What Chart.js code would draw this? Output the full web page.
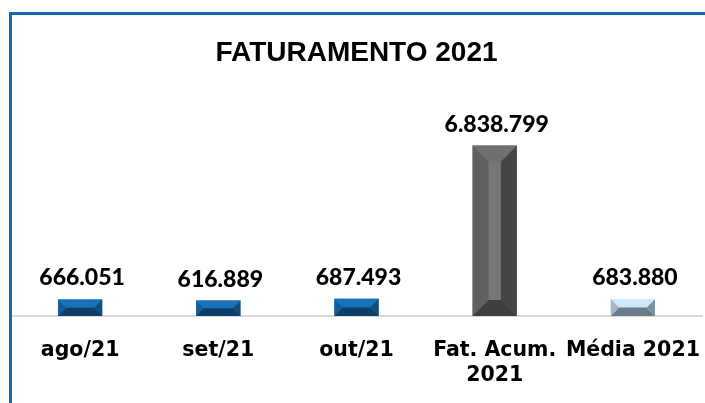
<!DOCTYPE html>
<html>
<head>
<meta charset="utf-8">
<script src="https://cdn.jsdelivr.net/npm/chart.js@4.4.1/dist/chart.umd.min.js"></script>
<style>
  html, body { margin: 0; padding: 0; background: #fff; overflow: hidden; }
  #wrap { position: relative; width: 705px; height: 403px; overflow: hidden; }
  #frame { position: absolute; left: 9px; top: 12px; width: 800px; height: 500px;
           border-left: 3.5px solid #1467ab; border-top: 3px solid #1467ab; pointer-events: none; }
</style>
</head>
<body>
<div id="wrap">
  <canvas id="chart" width="705" height="403"></canvas>
  <div id="frame"></div>
</div>
<script>
// ---------- data ----------
const TITLE = 'FATURAMENTO 2021';
const categories = ['ago/21', 'set/21', 'out/21', ['Fat. Acum.', '2021'], 'Média 2021'];
const values = [666051, 616889, 687493, 6838799, 683880];
const yMax = 8000000;

// ---------- bevel colours (one style per bar) ----------
const barStyle = ['blue', 'blue', 'blue', 'gray', 'light'];
const palettes = {
    blue:  { center: '#1a71b6', top: '#1a72b8', left: '#135f9b', right: '#0f4d7e', bottom: '#0d3f68' },
    gray:  { center: '#757678', top: '#6f7072', left: '#5f6062', right: '#444547', bottom: '#3d3e40' },
    light: { center: '#cfe8fa', top: '#cfe8fa', left: '#a3b7c7', right: '#7f91a0', bottom: '#6b7d8c' }
};

function fmt(n) {
    // 6838799 -> 6.838.799
    return n.toString().replace(/\B(?=(\d{3})+(?!\d))/g, '.');
}

function poly(ctx, pts, color) {
    ctx.beginPath();
    ctx.moveTo(pts[0][0], pts[0][1]);
    for (let i = 1; i < pts.length; i++) ctx.lineTo(pts[i][0], pts[i][1]);
    ctx.closePath();
    ctx.fillStyle = color;
    ctx.fill();
}

// draws bevel faces on top of each bar, using the bar geometry from chart.js
const bevelPlugin = {
    id: 'bevel',
    afterDatasetsDraw(chart) {
        const ctx = chart.ctx;
        const meta = chart.getDatasetMeta(0);
        ctx.save();
        meta.data.forEach((bar, i) => {
            const p = palettes[barStyle[i]];
            const L = bar.x - bar.width / 2, R = bar.x + bar.width / 2;
            const T = bar.y, B = bar.base;
            const b = Math.min(16, (B - T) / 2, (R - L) / 2 - 6);
            poly(ctx, [[L, T], [L + b, T + b], [L + b, B - b], [L, B]], p.left);
            poly(ctx, [[R, T], [R - b, T + b], [R - b, B - b], [R, B]], p.right);
            poly(ctx, [[L, T], [R, T], [R - b, T + b], [L + b, T + b]], p.top);
            poly(ctx, [[L, B], [R, B], [R - b, B - b], [L + b, B - b]], p.bottom);
        });
        ctx.restore();
    }
};

// value labels above the bars
const valueLabelPlugin = {
    id: 'valueLabels',
    afterDatasetsDraw(chart) {
        const ctx = chart.ctx;
        const meta = chart.getDatasetMeta(0);
        ctx.save();
        ctx.font = '900 23px Lato, "Open Sans", sans-serif';
        ctx.fillStyle = '#000';
        ctx.textAlign = 'center';
        ctx.textBaseline = 'alphabetic';
        meta.data.forEach((bar, i) => {
            ctx.fillText(fmt(values[i]), bar.x + 2, bar.y - 14);
        });
        ctx.restore();
    }
};

new Chart(document.getElementById('chart'), {
    type: 'bar',
    data: {
        labels: categories,
        datasets: [{
            data: values,
            backgroundColor: barStyle.map(s => palettes[s].center),
            borderWidth: 0,
            categoryPercentage: 1,
            barPercentage: 0.32
        }]
    },
    options: {
        responsive: false,
        animation: false,
        devicePixelRatio: 1,
        layout: { padding: { top: 0, left: 11, right: 3, bottom: 14.5 } },
        plugins: {
            legend: { display: false },
            tooltip: { enabled: false },
            title: {
                display: true,
                text: TITLE,
                color: '#000',
                font: { family: '"Liberation Sans", Arial, sans-serif', size: 28, weight: 'bold' },
                padding: { top: 36, bottom: 47 }
            }
        },
        scales: {
            x: {
                grid: { display: false, drawTicks: false },
                border: { display: true, color: '#d9d9d9', width: 2 },
                ticks: {
                    color: '#000',
                    padding: 22.5,
                    maxRotation: 0,
                    autoSkip: false,
                    font: { family: '"DejaVu Sans", sans-serif', size: 20.5, weight: 'bold', lineHeight: 1.22 }
                },
                afterFit(scale) {
                    // two label lines + padding; no extra side padding for the long labels
                    scale.height = 72.5;
                    scale.paddingLeft = 0;
                    scale.paddingRight = 0;
                }
            },
            y: { display: false, min: 0, max: yMax }
        }
    },
    plugins: [bevelPlugin, valueLabelPlugin]
});
</script>
</body>
</html>
